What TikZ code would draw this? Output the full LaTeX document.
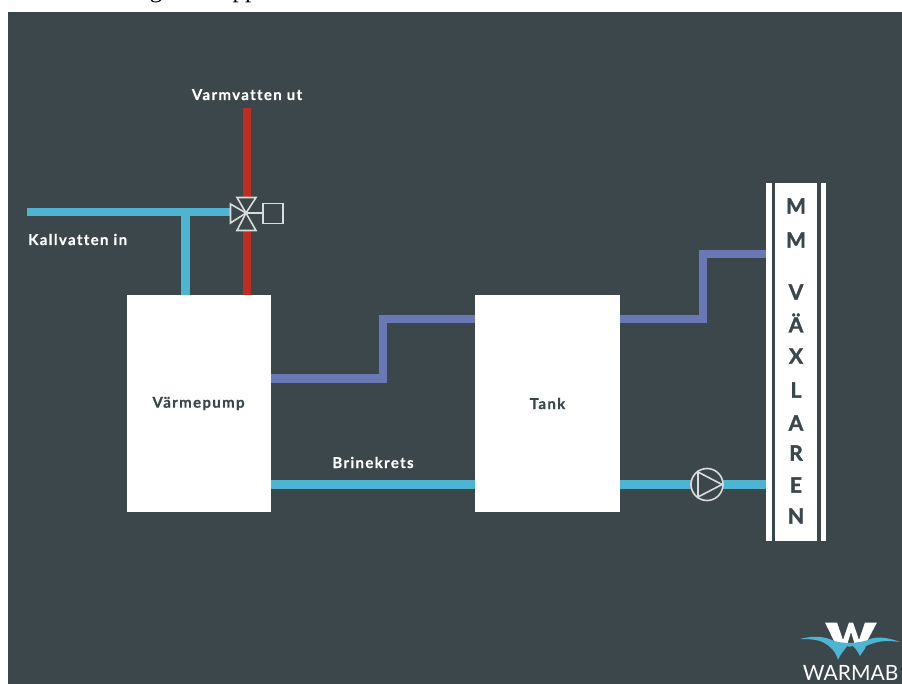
\documentclass[tikz,border=0pt]{standalone}
\usepackage{fontspec}
\setmainfont{Lato}
\newfontfamily\serifcut{Liberation Serif}
\newfontfamily\labfont[LetterSpace=9,FakeBold=0.5,Ligatures=NoCommon]{Lato Bold}
\newfontfamily\vertfont[FakeBold=1.6]{Lato Bold}
\definecolor{panel}{HTML}{3C474C}
\definecolor{cyanpipe}{HTML}{4DB5D2}
\definecolor{bluepipe}{HTML}{6A78B5}
\definecolor{redpipe}{HTML}{C22B22}
\definecolor{symb}{HTML}{D9DCDC}
\tikzset{
 x=1pt,y=-1pt,
 pipe/.style={line width=8.8pt,line join=miter},
 boxw/.style={fill=white,draw=none,inner sep=0pt,font=\labfont\fontsize{15}{17}\selectfont,text=panel},
 lab/.style={text=white,inner sep=0pt,font=\labfont\fontsize{15}{17}\selectfont,anchor=base west},
 sym/.style={draw=symb,line width=1.6pt,line join=miter},
 vert/.style={text=panel,inner sep=0pt,font=\vertfont\fontsize{21}{23}\selectfont},
}
\begin{document}
\begin{tikzpicture}
\useasboundingbox (0,0) rectangle (902,684);
\begin{scope}
\clip (0,0) rectangle (902,12);
\node[inner sep=0pt,anchor=base,text=black,font=\serifcut\fontsize{25}{27}\selectfont] (frag1) at (156,-2.5) {g};
\node[inner sep=0pt,anchor=base,text=black,font=\serifcut\fontsize{25}{27}\selectfont] (frag2) at (245,-2.5) {pp};
\end{scope}
\fill[panel] (8,12) rectangle (902,684);
% boxes
\node[boxw,minimum width=144pt,minimum height=217pt] (vp) at (198.5,403.5) {Värmepump};
\node[boxw,minimum width=145pt,minimum height=217pt] (tank) at (547.5,403.5) {Tank};
\fill[white] (766,183) rectangle (771.5,541);
\fill[white] (821,183) rectangle (826,541);
\node[boxw,minimum width=42pt,minimum height=358pt] (mm) at (796,362) {};
\coordinate (kall) at (27,212);
\coordinate (tee) at (185.5,212);
\coordinate (varm) at (247,108);
% pipes
\draw[pipe,cyanpipe] (kall) -- (230,212);
\draw[pipe,cyanpipe] (tee) -- (tee|-vp.north);
\draw[pipe,redpipe] (varm) -- (247,197);
\draw[pipe,redpipe] (247,231) -- (247,295);
\coordinate (a1) at (271,378.5);
\draw[pipe,bluepipe] (a1) -| (383,319) -- (tank.west|-0,319);
\draw[pipe,bluepipe] (tank.east|-0,319) -| (703,254) -- (766,254);
\draw[pipe,cyanpipe] (vp.east|-0,484.5) -- (tank.west|-0,484.5);
\draw[pipe,cyanpipe] (tank.east|-0,484.5) -- (691,484.5);
\draw[pipe,cyanpipe] (723,484.5) -- (766,484.5);
% valve
\draw[sym] (246,213) -- (230.5,204) -- (230.5,223) -- cycle;
\draw[sym] (246,213) -- (237,197.5) -- (256,197.5) -- cycle;
\draw[sym] (246,213) -- (237,230.5) -- (256,230.5) -- cycle;
\draw[sym] (246,213) -- (263,213);
\draw[sym] (263,203.5) rectangle (283,223.5);
% pump
\node[draw=symb,line width=1.6pt,circle,minimum size=32pt,inner sep=0pt] (pump) at (707,484.5) {};
\draw[sym] (698,472) -- (722,484.5) -- (698,497) -- cycle;
% labels
\node[lab,anchor=base] (l1) at (247,100) {Varmvatten ut};
\node[lab] (l2) at (28,245) {Kallvatten in};
\node[lab,anchor=base] (l3) at (373,468) {Brinekrets};
% vertical text
\foreach \t/\y in {M/206,M/240,V/292,Ä/323,X/356,L/390,A/423,R/453,E/485,N/516}
  \node[vert] at (796,\y) {\t};
% logo
\fill[white] (825,622.5) -- (837,622.5) -- (843,640) -- (849,622.5) -- (853,622.5) -- (859,640) -- (865,622.5) -- (877,622.5) -- (865,645) -- (855,645) -- (851,632) -- (847,645) -- (836,645) -- cycle;
\fill[cyanpipe] (800,639) .. controls (815,635) and (825,637) .. (832,640) .. controls (840,644) and (860,644) .. (870,639) .. controls (878,636) and (890,638) .. (900,642) .. controls (885,640) and (878,641) .. (866,646) .. controls (865,650) and (862,652) .. (860,656) .. controls (858,652) and (856,649) .. (853,646) .. controls (850,647) and (848,647) .. (847,646) .. controls (845,650) and (840,654) .. (838,660) .. controls (836,652) and (830,645) .. (820,641) .. controls (813,639) and (806,639) .. (800,639) -- cycle;
\node[text=white,inner sep=0pt,anchor=base east,font=\fontsize{21}{23}\selectfont] (logo) at (898.5,680) {WARMAB};
\end{tikzpicture}
\end{document}
